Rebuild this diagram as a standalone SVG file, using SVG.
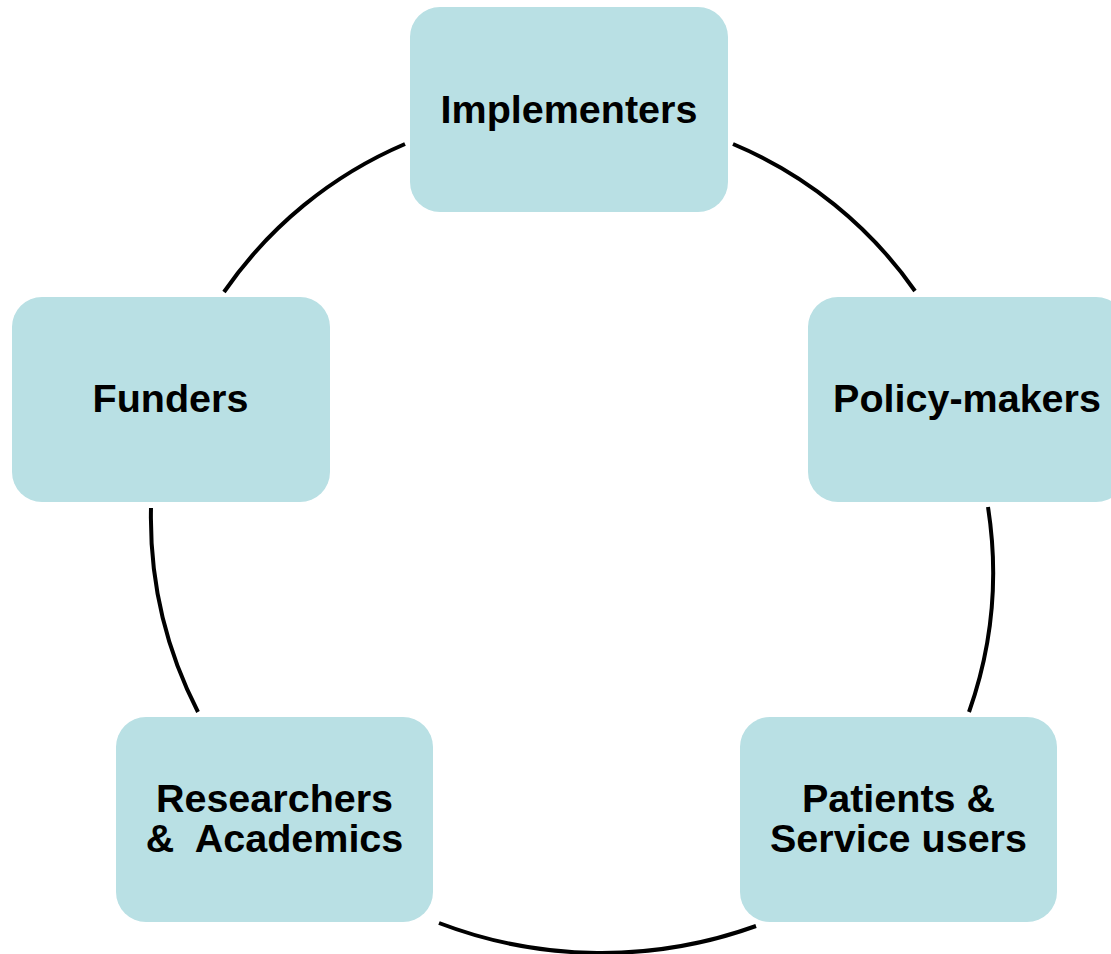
<svg xmlns="http://www.w3.org/2000/svg" width="1111" height="954" viewBox="0 0 1111 954">
  <style>
    .box { fill: #B9E0E4; }
    .lbl { font-family: "Liberation Sans", Arial, sans-serif; font-weight: bold; font-size: 39.5px; fill: #000; text-anchor: middle; }
    .arc { fill: none; stroke: #000; stroke-width: 4; stroke-linecap: butt; }
  </style>
  <rect width="1111" height="954" fill="#fff"/>
  <g id="connectors">
    <path class="arc" d="M 224 292 A 420 420 0 0 1 405 144"/>
    <path class="arc" d="M 733 144 A 420 420 0 0 1 915 291"/>
    <path class="arc" d="M 988 507 A 420 420 0 0 1 969 712"/>
    <path class="arc" d="M 756 926 A 455 455 0 0 1 439 923"/>
    <path class="arc" d="M 198 712 A 425 425 0 0 1 151 508"/>
  </g>
  <g id="implementers">
    <rect class="box" x="410" y="7" width="318" height="205" rx="30" ry="30"/>
    <text class="lbl" x="569" y="123">Implementers</text>
  </g>
  <g id="policy-makers">
    <rect class="box" x="808" y="297" width="318" height="205" rx="30" ry="30"/>
    <text class="lbl" x="967" y="412">Policy-makers</text>
  </g>
  <g id="patients">
    <rect class="box" x="740" y="717" width="317" height="205" rx="30" ry="30"/>
    <text class="lbl" x="898.5" y="812">Patients &amp;</text>
    <text class="lbl" x="898.5" y="852">Service users</text>
  </g>
  <g id="researchers">
    <rect class="box" x="116" y="717" width="317" height="205" rx="30" ry="30"/>
    <text class="lbl" x="274.5" y="812">Researchers</text>
    <text class="lbl" x="274.5" y="852" xml:space="preserve">&amp;  Academics</text>
  </g>
  <g id="funders">
    <rect class="box" x="12" y="297" width="318" height="205" rx="30" ry="30"/>
    <text class="lbl" x="170.5" y="412">Funders</text>
  </g>
</svg>
